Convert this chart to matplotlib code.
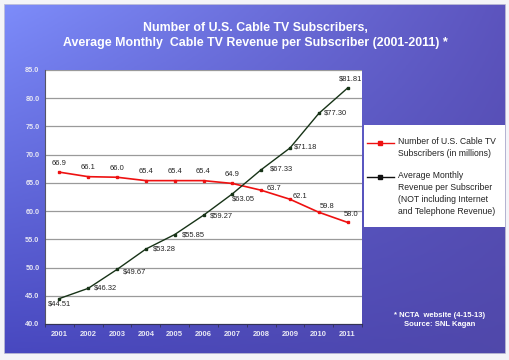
"""
Cable TV subscribers vs. average monthly revenue, 2001-2011.
"""
import matplotlib
matplotlib.use('Agg')
import matplotlib.pyplot as plt
import numpy as np
from matplotlib.lines import Line2D
from matplotlib.patches import Rectangle

plt.rcParams['font.family'] = ['Liberation Sans', 'DejaVu Sans']

years = ['2001', '2002', '2003', '2004', '2005', '2006',
         '2007', '2008', '2009', '2010', '2011']
subscribers = [66.9, 66.1, 66.0, 65.4, 65.4, 65.4, 64.9, 63.7, 62.1, 59.8, 58.0]
revenue = [44.51, 46.32, 49.67, 53.28, 55.85, 59.27, 63.05, 67.33, 71.18, 77.30, 81.81]
yticks = [40.0, 45.0, 50.0, 55.0, 60.0, 65.0, 70.0, 75.0, 80.0, 85.0]

fig = plt.figure(figsize=(5.1, 3.6), dpi=100)
fig.patch.set_facecolor('#f4f4f8')

# background gradient panel
bg = fig.add_axes([4/510., 6/360., 502/510., 350/360.])
bg.set_axis_off()
gy, gx = np.mgrid[0:1:120j, 0:1:170j]
top_left = np.array([125, 140, 250]) / 255.
bot_left = np.array([72, 72, 192]) / 255.
top_right = np.array([92, 84, 190]) / 255.
bot_right = np.array([80, 72, 170]) / 255.
img = ((1-gx)*(1-gy))[..., None]*top_left + ((1-gx)*gy)[..., None]*bot_left \
    + (gx*(1-gy))[..., None]*top_right + (gx*gy)[..., None]*bot_right
bg.imshow(img, aspect='auto', extent=[0, 1, 0, 1])
bg.add_patch(Rectangle((0, 0), 1, 1, transform=bg.transAxes, fill=False,
                       ec='#c8c8d8', lw=1.2))

fig.text(0.5, 1-28/360., 'Number of U.S. Cable TV Subscribers,', color='white',
         fontsize=8.9, fontweight='bold', ha='center', va='center')
fig.text(0.5, 1-43/360., 'Average Monthly  Cable TV Revenue per Subscriber (2001-2011) *',
         color='white', fontsize=8.9, fontweight='bold', ha='center', va='center')

ax = fig.add_axes([45/510., 36/360., 317/510., 254/360.])
ax.set_facecolor('white')
x = np.arange(len(years))
ax.set_xlim(-0.5, len(years)-0.5)
ax.set_ylim(40, 85)
ax.set_yticks(yticks)
ax.set_yticklabels(['%.1f' % v for v in yticks], color='#e8e8f4', fontsize=5.2,
                   fontweight='bold')
ax.set_xticks(x)
ax.set_xticklabels(years, color='#e8e8f4', fontsize=5.5, fontweight='bold')
ax.tick_params(axis='x', length=0, pad=5)
ax.tick_params(axis='y', length=0, pad=4)
ax.set_xticks(np.arange(len(years)+1)-0.5, minor=True)
ax.tick_params(axis='x', which='minor', length=2.5, color='#333355')
ax.grid(axis='y', color='#9a9a9a', lw=0.9)
ax.set_axisbelow(True)
for s in ['top', 'right']:
    ax.spines[s].set_visible(False)
ax.spines['left'].set_color('#555566')
ax.spines['bottom'].set_color('#333355')

ax.plot(x, subscribers, color='#ee1111', lw=1.2, marker='s', ms=2.0, zorder=3)
ax.plot(x, revenue, color='#173317', lw=1.0, marker='s', ms=2.0, zorder=3)

# label placement (offset pixels, horizontal alignment)
sub_off = [(0, 9, 'center')]*7 + [(5, 2, 'left'), (3, 3, 'left'),
                                  (1, 6, 'left'), (3, 8, 'center')]
for i, v in enumerate(subscribers):
    dx, dy, ha = sub_off[i]
    ax.annotate('%.1f' % v, (x[i], v), xytext=(dx, dy), textcoords='offset pixels',
                ha=ha, va='center', fontsize=5.4, color='#222222')

rev_off = [(0, -5, 'center'), (6, 0, 'left'), (6, -3, 'left'), (7, 0, 'left'),
           (7, 0, 'left'), (6, -1, 'left'), (0, -5, 'left'), (9, 1, 'left'),
           (4, 1, 'left'), (5, 0, 'left'), (3, 9, 'center')]
for i, v in enumerate(revenue):
    dx, dy, ha = rev_off[i]
    ax.annotate('$%.2f' % v, (x[i], v), xytext=(dx, dy), textcoords='offset pixels',
                ha=ha, va='center', fontsize=5.4, color='#222222')

# legend box
lg = fig.add_axes([364/510., 1-227/360., 141/510., 102/360.])
lg.set_xlim(0, 141)
lg.set_ylim(102, 0)
lg.set_facecolor('white')
lg.set_xticks([])
lg.set_yticks([])
for s in lg.spines.values():
    s.set_visible(False)
lg.add_line(Line2D([3, 16.5, 30], [18, 18, 18], color='#ee1111', lw=1.0,
                   marker='s', ms=3, markevery=[1]))
lg.add_line(Line2D([3, 16.5, 30], [52, 52, 52], color='#111111', lw=1.0,
                   marker='s', ms=3, markevery=[1]))
lg.text(34, 12.5, 'Number of U.S. Cable TV\nSubscribers (in millions)', fontsize=6.2,
        va='top', ha='left', color='#222222', linespacing=1.42)
lg.text(34, 46.5, 'Average Monthly\nRevenue per Subscriber\n(NOT including Internet\n'
        'and Telephone Revenue)', fontsize=6.2, va='top', ha='left', color='#222222',
        linespacing=1.42)

fig.text(440/510., 1-320/360., '* NCTA  website (4-15-13)\nSource: SNL Kagan',
         color='white', fontsize=5.5, fontweight='bold', ha='center', va='center',
         linespacing=1.4)

fig.savefig('out.png', dpi=100)
